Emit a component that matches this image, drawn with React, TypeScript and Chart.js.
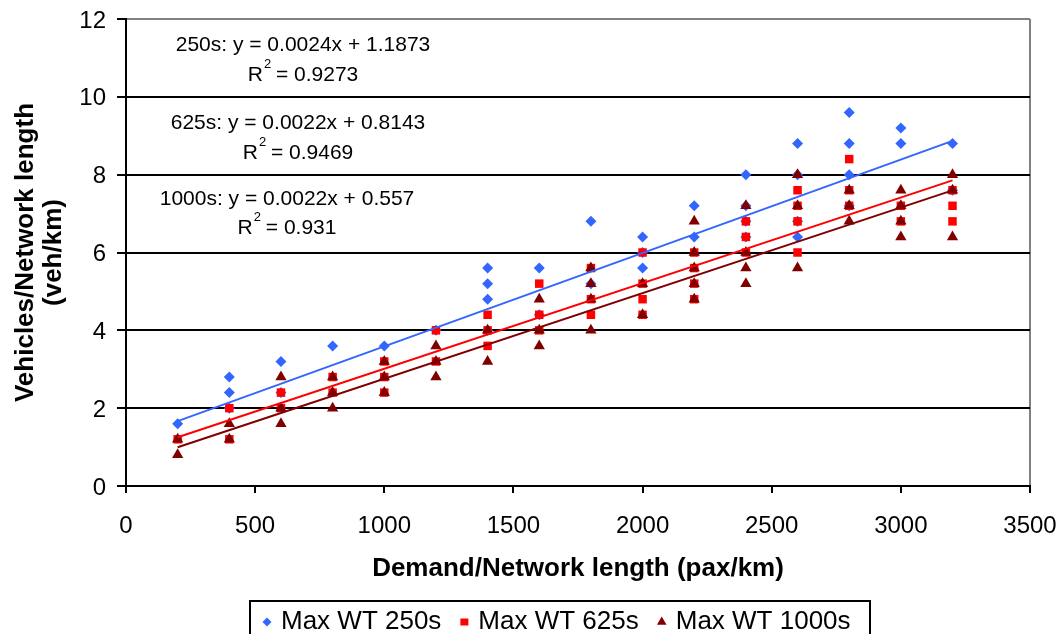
import React, { useEffect, useRef } from 'react';
import { Chart, registerables } from 'chart.js';

Chart.register(...registerables);

// ---------- data ----------
const demandColumns = [200, 400, 600, 800, 1000, 1200, 1400, 1600, 1800, 2000, 2200, 2400, 2600, 2800, 3000, 3200];

const wt250 = [
  [1.6],
  [2.8, 2.4, 2.0],
  [3.2, 2.4],
  [3.6],
  [3.6],
  [4.0],
  [5.6, 5.2, 4.8, 4.0],
  [5.6, 4.4],
  [6.8, 5.2],
  [6.4, 6.0, 5.6],
  [7.2, 6.4],
  [8.0, 7.2, 6.8, 6.4],
  [8.8, 8.0, 6.8, 6.4],
  [9.6, 8.8, 8.0, 7.2],
  [9.2, 8.8],
  [8.8, 7.6],
];

const wt625 = [
  [1.2],
  [2.0, 1.2],
  [2.4, 2.0],
  [2.8, 2.4],
  [3.2, 2.8, 2.4],
  [4.0, 3.2],
  [4.4, 4.0, 3.6],
  [5.2, 4.4, 4.0],
  [5.6, 4.8, 4.4],
  [6.0, 5.2, 4.8, 4.4],
  [6.0, 5.6, 5.2, 4.8],
  [6.8, 6.4, 6.0],
  [7.6, 7.2, 6.8, 6.0],
  [8.4, 7.6, 7.2],
  [7.2, 6.8],
  [7.6, 7.2, 6.8],
];

const wt1000 = [
  [1.2, 0.8],
  [1.6, 1.2],
  [2.8, 2.0, 1.6],
  [2.8, 2.4, 2.0],
  [3.2, 2.8, 2.4],
  [3.6, 3.2, 2.8],
  [4.0, 3.2],
  [4.8, 4.0, 3.6],
  [5.6, 5.2, 4.8, 4.0],
  [5.2, 4.4],
  [6.8, 6.0, 5.6, 5.2, 4.8],
  [7.2, 6.0, 5.6, 5.2],
  [8.0, 7.2, 5.6],
  [7.6, 7.2, 6.8],
  [7.6, 7.2, 6.8, 6.4],
  [8.0, 7.6, 6.4],
];

const seriesNames = ['Max WT 250s', 'Max WT 625s', 'Max WT 1000s'];
const trendNames = ['250s', '625s', '1000s'];
const trendSlopes = [0.0024, 0.0022, 0.0022];
const trendIntercepts = [1.1873, 0.8143, 0.557];
const trendR2 = ['0.9273', '0.9469', '0.931'];
const trendRange = [200, 3200];

const xTickRange = [0, 3500, 500];
const yTickRange = [0, 12, 2];
const xTitle = 'Demand/Network length (pax/km)';
const yTitle = ['Vehicles/Network length', '(veh/km)'];

// ---------- styles ----------
const FONT = '"Liberation Sans", Arial, Helvetica, sans-serif';
const COLORS = ['#3366FF', '#FF0000', '#800000'];
const STYLES = ['rectRot', 'rect', 'triangle'];
const RADII = [5.5, 6, 6.5];

const toPoints = (vals: number[][]) =>
  demandColumns.flatMap((x, i) => vals[i].map((y) => ({ x, y })));

function drawMarker(ctx: CanvasRenderingContext2D, style: string, x: number, y: number, color: string) {
  ctx.fillStyle = color;
  ctx.beginPath();
  if (style === 'rectRot') {
    const r = 4.5;
    ctx.moveTo(x, y - r);
    ctx.lineTo(x + r, y);
    ctx.lineTo(x, y + r);
    ctx.lineTo(x - r, y);
  } else if (style === 'rect') {
    ctx.rect(x - 4, y - 3.5, 8, 7);
  } else {
    const r = 5.5;
    ctx.moveTo(x, y - r);
    ctx.lineTo(x + r * 0.866, y + r * 0.5);
    ctx.lineTo(x - r * 0.866, y + r * 0.5);
  }
  ctx.closePath();
  ctx.fill();
}

const equationPlugin = {
  id: 'equations',
  afterDraw(chart: any) {
    const ctx: CanvasRenderingContext2D = chart.ctx;
    const pos = [
      { x: 303, y1: 45, y2: 75 },
      { x: 298, y1: 123, y2: 153 },
      { x: 287, y1: 199, y2: 228 },
    ];
    ctx.save();
    ctx.fillStyle = '#000';
    ctx.textBaseline = 'middle';
    for (let i = 0; i < 3; i++) {
      const p = pos[i];
      ctx.font = `21px ${FONT}`;
      ctx.textAlign = 'center';
      ctx.fillText(`${trendNames[i]}: y = ${trendSlopes[i]}x + ${trendIntercepts[i]}`, p.x, p.y1);
      const a = 'R';
      const b = ` = ${trendR2[i]}`;
      const wa = ctx.measureText(a).width;
      const wb = ctx.measureText(b).width;
      ctx.font = `13px ${FONT}`;
      const ws = ctx.measureText('2').width;
      const total = wa + ws + wb;
      const x0 = p.x - total / 2;
      ctx.textAlign = 'left';
      ctx.font = `21px ${FONT}`;
      ctx.fillText(a, x0, p.y2);
      ctx.font = `13px ${FONT}`;
      ctx.fillText('2', x0 + wa + 1, p.y2 - 11);
      ctx.font = `21px ${FONT}`;
      ctx.fillText(b, x0 + wa + ws, p.y2);
    }
    ctx.restore();
  },
};

const legendPlugin = {
  id: 'customLegend',
  afterDraw(chart: any) {
    const ctx: CanvasRenderingContext2D = chart.ctx;
    ctx.save();
    const left = 250;
    const top = 601;
    const right = 870;
    ctx.strokeStyle = '#000';
    ctx.lineWidth = 2;
    ctx.strokeRect(left, top, right - left, 60);
    ctx.font = `26px ${FONT}`;
    ctx.textBaseline = 'middle';
    ctx.textAlign = 'left';
    const cy = 622;
    let x = 267;
    for (let i = 0; i < 3; i++) {
      drawMarker(ctx, STYLES[i], x, cy, COLORS[i]);
      const tx = x + 14;
      ctx.fillStyle = '#000';
      ctx.fillText(seriesNames[i], tx, cy);
      const w = ctx.measureText(seriesNames[i]).width;
      x = tx + w + 23;
    }
    ctx.restore();
  },
};

export default function App() {
  const ref = useRef<HTMLCanvasElement | null>(null);

  useEffect(() => {
    document.body.style.margin = '0';
    const canvas = ref.current;
    if (!canvas) return;

    const scatterSets = [wt250, wt625, wt1000].map((vals, i) => ({
      label: seriesNames[i],
      data: toPoints(vals),
      pointStyle: STYLES[i],
      pointRadius: RADII[i],
      pointHoverRadius: RADII[i],
      pointBackgroundColor: COLORS[i],
      pointBorderColor: COLORS[i],
      pointBorderWidth: 0,
      backgroundColor: COLORS[i],
      borderColor: COLORS[i],
      showLine: false,
      order: 4 - i,
    }));

    const trendSets = trendSlopes.map((m, i) => ({
      label: `${trendNames[i]} trend`,
      data: trendRange.map((x) => ({ x, y: m * x + trendIntercepts[i] })),
      showLine: true,
      borderColor: COLORS[i],
      borderWidth: 2,
      pointRadius: 0,
      pointHoverRadius: 0,
      fill: false,
      order: 0,
    }));

    Chart.defaults.font.family = FONT;

    const chart = new Chart(canvas, {
      type: 'scatter',
      data: { datasets: [...scatterSets, ...trendSets] as any },
      options: {
        animation: false,
        responsive: false,
        devicePixelRatio: 1,
        events: [],
        layout: { padding: { left: 0, right: 34, top: 19, bottom: 50 } },
        plugins: {
          legend: { display: false },
          tooltip: { enabled: false },
          title: { display: false },
        },
        scales: {
          x: {
            type: 'linear',
            min: xTickRange[0],
            max: xTickRange[1],
            ticks: {
              stepSize: xTickRange[2],
              color: '#000',
              font: { size: 24, family: FONT },
              padding: 19,
              maxRotation: 0,
              callback: (v: any) => String(v),
            },
            grid: {
              color: (c: any) => (c.tick && c.tick.value === xTickRange[1] ? '#808080' : 'rgba(0,0,0,0)'),
              tickColor: '#000',
              tickLength: 7,
              lineWidth: 2,
            },
            border: { display: true, color: '#000', width: 2 },
            title: {
              display: true,
              text: xTitle,
              color: '#000',
              font: { size: 26, weight: 'bold', family: FONT },
              padding: 0,
            },
            afterFit: (s: any) => {
              s.height = 98;
              s.paddingLeft = 0;
              s.paddingRight = 0;
            },
          },
          y: {
            type: 'linear',
            min: yTickRange[0],
            max: yTickRange[1],
            ticks: {
              stepSize: yTickRange[2],
              color: '#000',
              font: { size: 24, family: FONT },
              padding: 11,
              labelOffset: 2,
              callback: (v: any) => String(v),
            },
            grid: {
              color: (c: any) => (c.tick && c.tick.value === yTickRange[1] ? '#808080' : '#000'),
              tickColor: '#000',
              tickLength: 9,
              lineWidth: 2,
            },
            border: { display: true, color: '#000', width: 2 },
            title: {
              display: true,
              text: yTitle,
              color: '#000',
              font: { size: 26, weight: 'bold', family: FONT, lineHeight: 1.08 },
              padding: { top: 12, bottom: 0 },
            },
            afterFit: (s: any) => {
              s.width = 126;
              s.paddingTop = 0;
              s.paddingBottom = 0;
            },
          },
        },
      } as any,
      plugins: [equationPlugin, legendPlugin],
    });

    return () => {
      chart.destroy();
    };
  }, []);

  return (
    <div style={{ width: 1064, height: 634, background: '#fff' }}>
      <canvas ref={ref} width={1064} height={634} style={{ display: 'block' }} />
    </div>
  );
}
